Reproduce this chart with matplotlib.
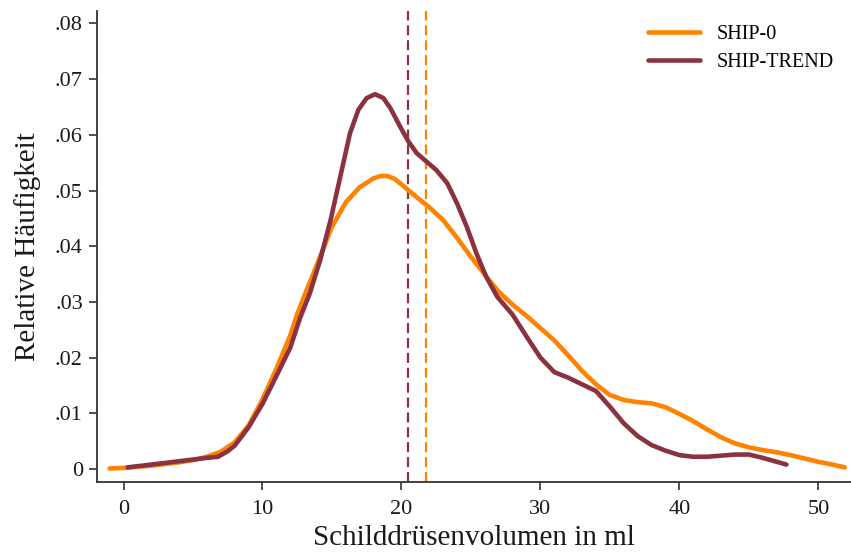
import matplotlib
matplotlib.use("Agg")
import matplotlib.pyplot as plt

plt.rcParams['font.family'] = ['Liberation Serif', 'DejaVu Serif']

# SHIP-0 density curve
ship0_x = [-1, 0, 1, 2, 3, 4, 5, 6, 7, 8, 9, 10, 11, 12, 12.5, 13, 14, 15, 16, 17, 18,
           18.5, 19, 19.5, 20, 21, 22, 23, 24, 25, 26, 27, 28, 29, 30, 31, 32, 33, 34,
           35, 36, 37, 38, 39, 40, 41, 42, 43, 44, 45, 46, 47, 48, 49, 50, 51, 51.9]
ship0_y = [0.0001, 0.0002, 0.0004, 0.0006, 0.0009, 0.0012, 0.0016, 0.0022, 0.0031,
           0.0048, 0.0078, 0.0125, 0.0180, 0.0240, 0.0278, 0.0310, 0.0372, 0.0435,
           0.0479, 0.0506, 0.0522, 0.0526, 0.0526, 0.0521, 0.0511, 0.0490, 0.0470,
           0.0447, 0.0415, 0.0381, 0.0349, 0.0318, 0.0295, 0.0275, 0.0253, 0.0231,
           0.0204, 0.0176, 0.0152, 0.0133, 0.0124, 0.0120, 0.0118, 0.0111, 0.0099,
           0.0086, 0.0071, 0.0057, 0.0046, 0.0039, 0.0034, 0.0030, 0.0025, 0.0019,
           0.0013, 0.0008, 0.0003]

# SHIP-TREND density curve
trend_x = [0.3, 1, 2, 3, 4, 5, 6, 6.8, 7.5, 8, 9, 10, 11, 12, 12.7, 13.4, 14.15, 14.9,
           15.6, 16.3, 16.9, 17.5, 18.1, 18.7, 19.2, 19.9, 20.5, 21.1, 21.8, 22.5, 23.3,
           24.0, 24.7, 25.4, 26.1, 26.9, 28, 29, 30, 31, 32, 33, 34, 35, 36, 37, 38, 39,
           40, 41, 42, 43, 44, 45, 46, 47, 47.7]
trend_y = [0.0003, 0.0005, 0.0008, 0.0011, 0.0014, 0.0017, 0.0020, 0.0022, 0.0032,
           0.0042, 0.0075, 0.0117, 0.0167, 0.0218, 0.0271, 0.0315, 0.0375, 0.0447,
           0.0525, 0.0603, 0.0645, 0.0666, 0.0673, 0.0666, 0.0648, 0.0615, 0.0588,
           0.0567, 0.0552, 0.0537, 0.0513, 0.0477, 0.0435, 0.0387, 0.0345, 0.0309,
           0.0277, 0.0238, 0.0200, 0.0174, 0.0164, 0.0152, 0.0140, 0.0112, 0.0082,
           0.0059, 0.0043, 0.0033, 0.0025, 0.0022, 0.0022, 0.0024, 0.0026, 0.0026,
           0.0020, 0.0013, 0.0008]

# mean markers
mean_ship0 = 21.8
mean_trend = 20.5

labels = ["SHIP-0", "SHIP-TREND"]
xticks = [0, 10, 20, 30, 40, 50]
yticks = [0, 0.01, 0.02, 0.03, 0.04, 0.05, 0.06, 0.07, 0.08]
ytick_labels = ["0", ".01", ".02", ".03", ".04", ".05", ".06", ".07", ".08"]

c_orange = "#FF8200"
c_maroon = "#8B3240"

fig = plt.figure(figsize=(8.51, 5.57), dpi=100)
ax = fig.add_axes([96.7 / 851, 75 / 557, (851 - 96.7) / 851, (482 - 11) / 557])

ax.axvline(mean_trend, color=c_maroon, lw=1.6, dashes=(4.5, 2.2))
ax.axvline(mean_ship0, color=c_orange, lw=1.6, dashes=(4.5, 2.2))
ax.plot(ship0_x, ship0_y, color=c_orange, lw=3.3, solid_capstyle='round',
        solid_joinstyle='round', label=labels[0])
ax.plot(trend_x, trend_y, color=c_maroon, lw=3.3, solid_capstyle='round',
        solid_joinstyle='round', label=labels[1])

ax.set_xlim(-1.93, 52.35)
ax.set_ylim(-0.00233, 0.08223)
ax.set_xticks(xticks)
ax.set_yticks(yticks)
ax.set_yticklabels(ytick_labels)

for s in ['top', 'right']:
    ax.spines[s].set_visible(False)
for s in ['left', 'bottom']:
    ax.spines[s].set_color('#333333')
    ax.spines[s].set_linewidth(1.3)

ax.tick_params(axis='both', direction='out', length=6, width=1.2, color='#333333',
               labelsize=16, labelcolor='#1a1a1a')
ax.tick_params(axis='y', pad=4)
ax.tick_params(axis='x', pad=7)

ax.set_xlabel("Schilddrüsenvolumen in ml", fontsize=21, color='#1a1a1a', labelpad=4)
ax.set_ylabel("Relative Häufigkeit", fontsize=21, color='#1a1a1a', labelpad=10)

leg = ax.legend(loc='upper left', bbox_to_anchor=(648 / 851, 1 - 25 / 557),
                bbox_transform=fig.transFigure, frameon=False, fontsize=14.5,
                handlelength=2.6, handletextpad=0.8, labelspacing=0.45,
                borderpad=0, borderaxespad=0)

fig.savefig("out.png", dpi=100)
